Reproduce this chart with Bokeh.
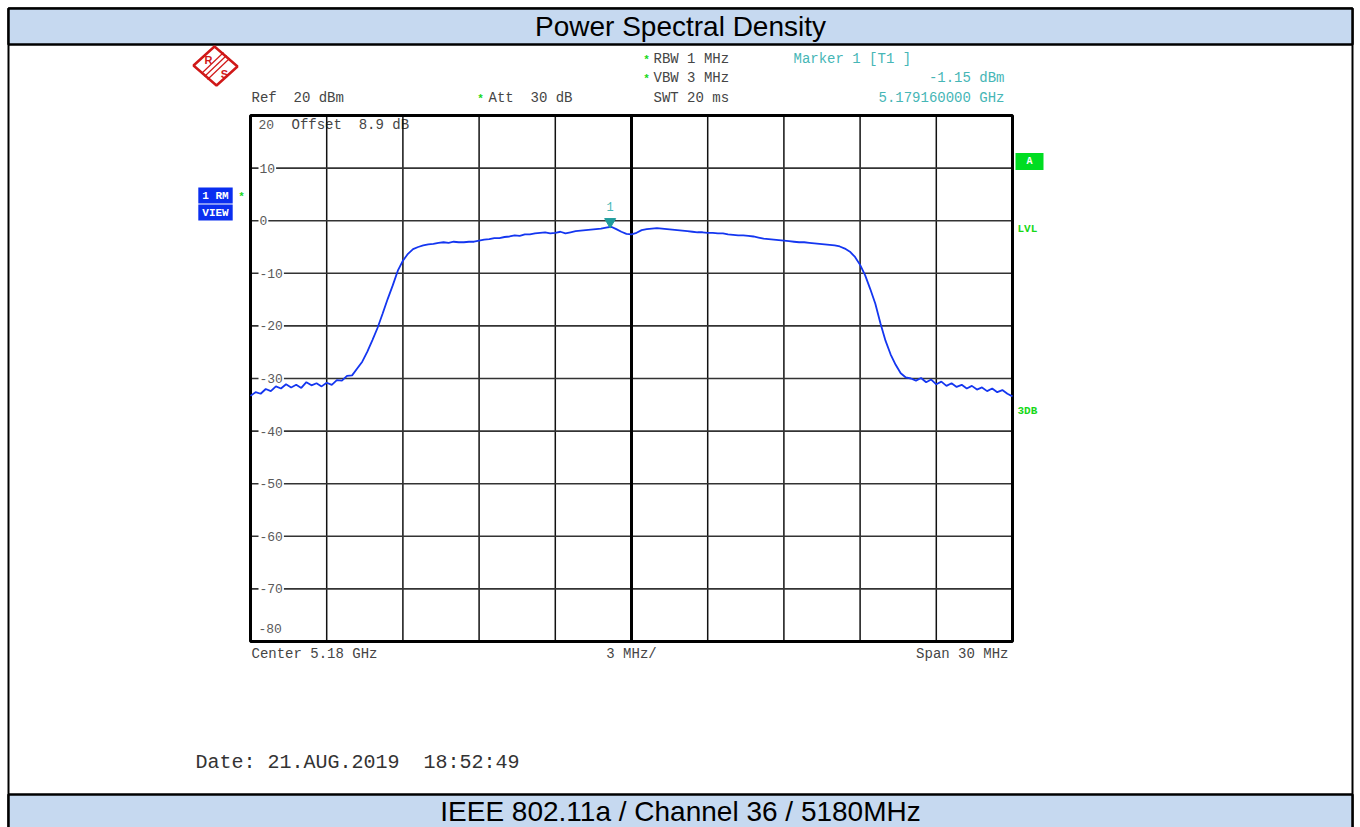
from bokeh.plotting import figure
from bokeh.models import Label, BoxAnnotation, PolyAnnotation, Range1d
from bokeh.embed import file_html
from bokeh.resources import INLINE

# ---------------- data ----------------
title_top = "Power Spectral Density"
title_bottom = "IEEE 802.11a / Channel 36 / 5180MHz"
center_ghz = 5.18
span_mhz = 30.0
ref_dbm = 20
bottom_dbm = -80
step_mhz = 0.2
level_dbm = [
    -33.3, -32.6, -32.9, -32.0, -32.4, -31.5, -31.9, -31.1, -31.7, -31.2,
    -31.8, -30.7, -31.3, -30.9, -31.5, -30.8, -31.2, -30.3, -30.4, -29.5,
    -29.4, -28.1, -26.8, -24.9, -22.7, -20.4, -17.7, -14.9, -12.3, -9.5,
    -7.6, -6.3, -5.4, -5.0, -4.7, -4.5, -4.4, -4.2, -4.1, -4.2,
    -4.0, -4.1, -4.1, -4.0, -4.0, -3.8, -3.6, -3.5, -3.3, -3.3,
    -3.1, -3.0, -2.8, -2.9, -2.6, -2.6, -2.4, -2.3, -2.2, -2.4,
    -2.3, -2.1, -2.4, -2.2, -2.0, -1.9, -1.8, -1.7, -1.6, -1.5,
    -1.3, -1.15, -1.6, -2.1, -2.5, -2.6, -2.3, -1.8, -1.6, -1.5,
    -1.4, -1.5, -1.6, -1.7, -1.8, -1.9, -2.0, -2.1, -2.2, -2.2,
    -2.3, -2.3, -2.4, -2.4, -2.6, -2.7, -2.8, -2.8, -2.9, -3.0,
    -3.2, -3.4, -3.5, -3.6, -3.7, -3.8, -3.9, -4.0, -4.1, -4.1,
    -4.2, -4.3, -4.4, -4.5, -4.6, -4.7, -4.9, -5.3, -5.9, -6.9,
    -8.4, -10.4, -13.0, -15.8, -19.5, -22.8, -25.4, -27.4, -29.0, -29.8,
    -30.0, -30.4, -29.9, -30.7, -30.2, -31.1, -30.6, -31.4, -30.9, -31.6,
    -31.2, -31.9, -31.4, -32.1, -31.7, -32.4, -31.9, -32.6, -32.2, -32.9,
    -33.4,
]
marker_freq_ghz = 5.17916
marker_level_dbm = -1.15
y_grid_db = [10, 0, -10, -20, -30, -40, -50, -60, -70]
y_tick_labels = ["10", "0", "-10", "-20", "-30", "-40", "-50", "-60", "-70"]
x_grid_mhz = [-12, -9, -6, -3, 3, 6, 9, 12]

NB = "\u00a0"  # keeps the double spaces of the instrument's texts visible
header_left = ["Ref " + NB + "20 dBm", "Att " + NB + "30 dB"]
header_mid = ["RBW 1 MHz", "VBW 3 MHz", "SWT 20 ms"]
header_right = ["Marker 1 [T1 ]", "-1.15 dBm", "5.179160000 GHz"]
offset_text = "Offset " + NB + "8.9 dB"
footer = ["Center 5.18 GHz", "3 MHz/", "Span 30 MHz"]
date_text = "Date: 21.AUG.2019 " + NB + "18:52:49"

freq_ghz = [center_ghz + (-span_mhz / 2 + i * step_mhz) / 1000.0 for i in range(len(level_dbm))]

# ---------------- layout ----------------
W, H = 1360, 827
GL, GR, GT, GB = 250, 1012, 115, 641     # grid box, in page pixels
f0 = center_ghz - span_mhz / 2000.0
f1 = center_ghz + span_mhz / 2000.0
ghz_per_px = (f1 - f0) / (GR - GL)
db_per_px = (ref_dbm - bottom_dbm) / (GB - GT)

p = figure(width=W, height=H, output_backend="svg", toolbar_location=None,
           x_axis_type=None, y_axis_type=None, title=None,
           x_range=Range1d(0, W), y_range=Range1d(H, 0),
           min_border_left=0, min_border_right=0, min_border_top=0, min_border_bottom=0)
p.extra_x_ranges = {"freq": Range1d(f0 - GL * ghz_per_px, f1 + (W - GR) * ghz_per_px)}
p.extra_y_ranges = {"level": Range1d(bottom_dbm - (H - GB) * db_per_px, ref_dbm + GT * db_per_px)}
p.background_fill_color = "white"
p.border_fill_color = "white"
p.outline_line_color = None

MONO = "Liberation Mono"
GRAY = "#454545"
TICK = "#5a5a5a"
TEAL = "#46b6b6"
GREEN = "#18d818"
FS = "14px"


def lab(x, y, text, **kw):
    opts = dict(x_range_name="default", y_range_name="default", text_baseline="middle",
                text_font=MONO, text_font_size=FS, text_color=GRAY)
    opts.update(kw)
    p.add_layout(Label(x=x, y=y, text=text, **opts))


# outer frame and title bars
BAR = "#c6d9f0"
p.add_layout(BoxAnnotation(left=8, right=1352, top=8, bottom=H + 5, fill_alpha=0,
                           line_color="black", line_alpha=1, line_width=2, level="underlay"))
p.add_layout(BoxAnnotation(left=8, right=1352, top=8, bottom=44, fill_color=BAR, fill_alpha=1,
                           line_color="black", line_alpha=1, line_width=2.5, level="underlay"))
p.add_layout(BoxAnnotation(left=8, right=1352, top=794, bottom=H + 5, fill_color=BAR, fill_alpha=1,
                           line_color="black", line_alpha=1, line_width=2.5, level="underlay"))
lab(680, 26, title_top, text_align="center", text_font="Liberation Sans", text_font_size="28px",
    text_color="black")
lab(680, 811, title_bottom, text_align="center", text_font="Liberation Sans", text_font_size="28px",
    text_color="black")

# offset text (under the grid)
lab(291, 124, offset_text, level="underlay")

# grid
vx = [center_ghz + m / 1000.0 for m in x_grid_mhz]
p.segment(x0=vx, y0=[bottom_dbm] * len(vx), x1=vx, y1=[ref_dbm] * len(vx),
          x_range_name="freq", y_range_name="level", line_color="#111111", line_width=1.5)
p.segment(x0=[f0] * len(y_grid_db), y0=y_grid_db, x1=[f1] * len(y_grid_db), y1=y_grid_db,
          x_range_name="freq", y_range_name="level", line_color="#333333", line_width=1.6)
p.segment(x0=[center_ghz], y0=[bottom_dbm], x1=[center_ghz], y1=[ref_dbm],
          x_range_name="freq", y_range_name="level", line_color="black", line_width=3)
p.quad(left=[f0], right=[f1], bottom=[bottom_dbm], top=[ref_dbm], x_range_name="freq",
       y_range_name="level", fill_alpha=0, line_color="black", line_width=3)

# trace
p.line(freq_ghz, level_dbm, x_range_name="freq", y_range_name="level",
       line_color="#1436f0", line_width=1.8)

# marker
p.scatter([marker_freq_ghz], [marker_level_dbm + 0.95], x_range_name="freq", y_range_name="level",
          marker="inverted_triangle", size=11, fill_color="#1f9c9c", line_color="#1f9c9c")
p.add_layout(Label(x=marker_freq_ghz, y=marker_level_dbm, x_range_name="freq", y_range_name="level",
                   y_offset=20, text="1", text_align="center", text_baseline="middle",
                   text_font=MONO, text_font_size="12px", text_color=TEAL))

# y tick labels inside the grid
for v, t in zip(y_grid_db, y_tick_labels):
    p.add_layout(Label(x=258, y=v, x_range_name="default", y_range_name="level", text=t,
                       text_baseline="middle", text_font=MONO, text_font_size="13px",
                       text_color=TICK, background_fill_color="white", padding=1))
lab(258, 124, "20", text_font_size="13px", text_color=TICK)
lab(258, 628, "-80", text_font_size="13px", text_color=TICK)

# header texts
lab(251, 97, header_left[0])
lab(488, 97, header_left[1])
for t, py in zip(header_mid, [58, 77, 97]):
    lab(653, py, t)
for px, py in [(646, 59), (646, 78), (480, 98)]:
    lab(px, py, "*", text_align="center", text_font_size="11px", text_font_style="bold",
        text_color=GREEN)
lab(793, 58, header_right[0], text_color=TEAL)
for t, py in zip(header_right[1:], [77, 97]):
    lab(1004, py, t, text_align="right", text_color=TEAL)

# footer texts
lab(251, 653, footer[0])
lab(631, 653, footer[1], text_align="center")
lab(1008, 653, footer[2], text_align="right")
lab(195, 762, date_text, text_font_size="20px", text_color="#333333")

# left side status boxes
lab(215, 195, "1 RM", text_align="center", text_font_size="11px", text_font_style="bold",
    text_color="white", background_fill_color="#0a2ef0", padding=(4, 2))
lab(215, 212, "VIEW", text_align="center", text_font_size="11px", text_font_style="bold",
    text_color="white", background_fill_color="#0a2ef0", padding=(4, 2))
lab(241, 196, "*", text_align="center", text_font_size="11px", text_font_style="bold",
    text_color=GREEN)

# right side status
lab(1029, 161, "A", text_align="center", text_font_size="10px", text_font_style="bold",
    text_color="white", background_fill_color="#00dd22", padding=(11, 3))
lab(1017, 228, "LVL", text_font_size="11px", text_font_style="bold", text_color=GREEN)
lab(1017, 410, "3DB", text_font_size="11px", text_font_style="bold", text_color=GREEN)

# R&S logo
RED = "#d01818"
p.add_layout(PolyAnnotation(xs=[214, 237, 216, 193], ys=[46, 66, 85, 65], fill_alpha=0,
                            line_color=RED, line_alpha=1, line_width=2.5))
for d in [-3, 0, 3]:
    p.add_layout(PolyAnnotation(xs=[204 + d, 226 + d], ys=[76 + d, 55 + d], fill_alpha=0,
                                line_color=RED, line_alpha=1, line_width=1.2))
lab(208, 59, "R", text_align="center", text_font="Liberation Sans", text_font_size="11px",
    text_font_style="bold", text_color=RED)
lab(224, 73, "S", text_align="center", text_font="Liberation Sans", text_font_size="11px",
    text_font_style="bold", text_color=RED)

open("out.html", "w").write(file_html(p, INLINE))
